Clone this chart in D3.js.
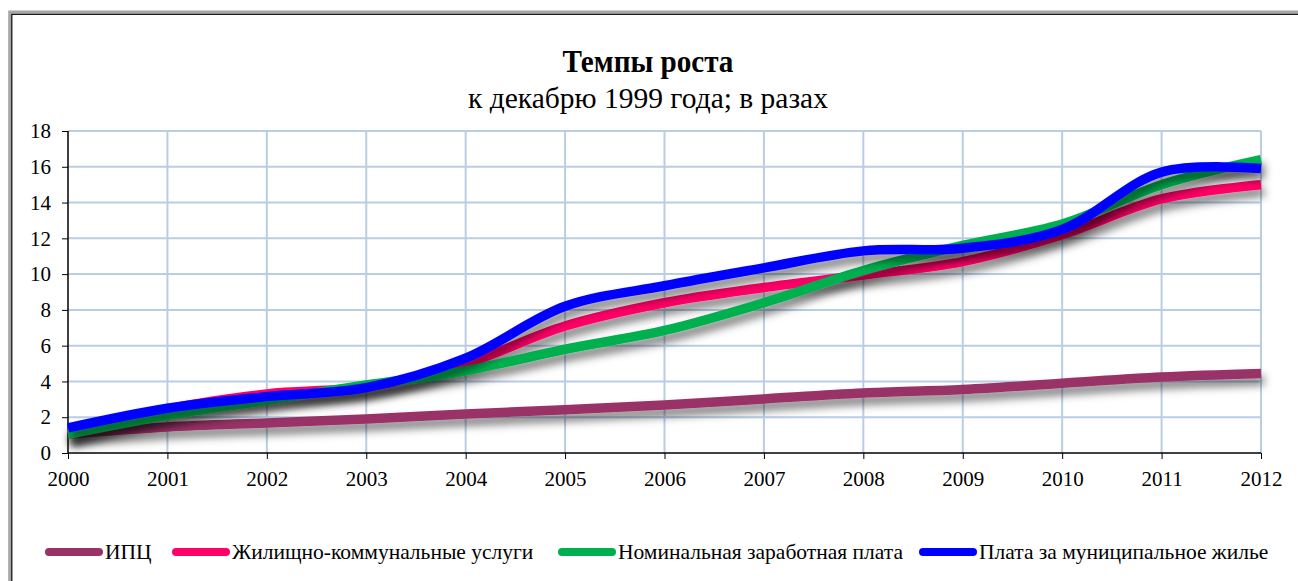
<!DOCTYPE html>
<html>
<head>
<meta charset="utf-8">
<script src="https://cdn.jsdelivr.net/npm/d3@7"></script>
<style>
  html, body { margin: 0; padding: 0; background: #fff; }
</style>
</head>
<body>
<svg id="chart" width="1298" height="581"></svg>
<script>
// Годы и ряды (темпы роста к декабрю 1999 г., в разах)
const years = [2000, 2001, 2002, 2003, 2004, 2005, 2006, 2007, 2008, 2009, 2010, 2011, 2012];
const cpi      = [1.05, 1.45, 1.68, 1.9, 2.18, 2.42, 2.68, 3.02, 3.35, 3.55, 3.9, 4.25, 4.45];
const housing  = [1.05, 2.45, 3.3, 3.7, 5.0, 7.1, 8.4, 9.25, 9.95, 10.7, 12.2, 14.2, 15.0];
const wages    = [1.05, 2.1, 2.95, 3.8, 4.6, 5.8, 6.85, 8.4, 10.2, 11.6, 12.8, 15.0, 16.4];
const municipal = [1.4, 2.5, 3.15, 3.65, 5.3, 8.2, 9.35, 10.35, 11.3, 11.45, 12.5, 15.7, 15.9];
const yTicks = [0, 2, 4, 6, 8, 10, 12, 14, 16, 18];

const seriesNames = ["ИПЦ", "Жилищно-коммунальные услуги", "Номинальная заработная плата", "Плата за муниципальное жилье"];
const seriesColors = ["#993366", "#ff0066", "#00b050", "#0000ff"];
const seriesValues = [cpi, housing, wages, municipal];

const FONT = "Liberation Serif";
const svg = d3.select("#chart");

// сжатие текста по горизонтали
function squeeze(sel, k) {
  sel.each(function () {
    const w = this.getComputedTextLength();
    d3.select(this).attr("textLength", w * k).attr("lengthAdjust", "spacingAndGlyphs");
  });
}

// рамка диаграммы
svg.append("rect").attr("x", 9.7).attr("y", 12).attr("width", 1300).attr("height", 600)
  .attr("fill", "none").attr("stroke", "#a6a6a6").attr("stroke-width", 3);
svg.append("rect").attr("x", 11.8).attr("y", 14.3).attr("width", 1300).attr("height", 600)
  .attr("fill", "none").attr("stroke", "#000").attr("stroke-width", 1.2);

// заголовок
svg.append("text").attr("x", 648).attr("y", 72).attr("text-anchor", "middle")
  .attr("font-family", FONT).attr("font-size", 31).attr("font-weight", "bold")
  .text("Темпы роста").call(squeeze, 0.94);
svg.append("text").attr("x", 648).attr("y", 108).attr("text-anchor", "middle")
  .attr("font-family", FONT).attr("font-size", 29.5).text("к декабрю 1999 года; в разах");

const x = d3.scaleLinear().domain([2000, 2012]).range([68, 1261]);
const y = d3.scaleLinear().domain([0, 18]).range([453, 131]);

// сетка
const grid = svg.append("g");
grid.selectAll("line.h").data(yTicks.filter(d => d > 0)).join("line")
  .attr("x1", x(2000)).attr("x2", x(2012))
  .attr("y1", d => y(d)).attr("y2", d => y(d))
  .attr("stroke", "#b9cde5").attr("stroke-width", 2);
grid.selectAll("line.v").data(years.filter(d => d > 2000)).join("line")
  .attr("x1", d => x(d)).attr("x2", d => x(d))
  .attr("y1", y(0)).attr("y2", y(18))
  .attr("stroke", "#b9cde5").attr("stroke-width", 2);

// оси
const yAxis = d3.axisLeft(y).tickValues(yTicks).tickSize(6).tickPadding(11).tickFormat(d3.format("d"));
const gy = svg.append("g").attr("transform", `translate(${x(2000)},0)`).call(yAxis);
const xAxis = d3.axisBottom(x).tickValues(years).tickSize(6).tickPadding(9).tickFormat(d3.format("d"));
const gx = svg.append("g").attr("transform", `translate(0,${y(0)})`).call(xAxis);
[gx, gy].forEach(g => {
  g.attr("font-family", FONT).attr("font-size", 21);
  g.select(".domain").attr("stroke", "#000").attr("stroke-width", 1.5);
  g.selectAll(".tick line").attr("stroke", "#000");
  g.selectAll(".tick text").attr("fill", "#000").attr("font-family", FONT);
});
gx.selectAll(".tick text").attr("y", 33).attr("dy", 0);
gy.select(".domain").attr("d", `M0,${y(18)}V${y(0)}`);
gx.select(".domain").attr("d", `M${x(2000)},0H${x(2012)}`);

// тень линий
const defs = svg.append("defs");
const f = defs.append("filter").attr("id", "shadow")
  .attr("x", "-5%").attr("y", "-20%").attr("width", "115%").attr("height", "160%");
f.append("feDropShadow").attr("dx", 3).attr("dy", 7).attr("stdDeviation", 4)
  .attr("flood-color", "#000").attr("flood-opacity", 0.5);

const line = d3.line()
  .x((d, i) => x(years[i]))
  .y(d => y(d))
  .curve(d3.curveCatmullRom.alpha(0.5));

const lines = svg.append("g");
seriesValues.forEach((vals, k) => {
  lines.append("path").datum(vals)
    .attr("d", line)
    .attr("fill", "none")
    .attr("stroke", seriesColors[k])
    .attr("stroke-width", 9.5)
    .attr("stroke-linejoin", "round")
    .attr("filter", "url(#shadow)");
});

// легенда
const legendX = [45, 172, 558, 919];
const legend = svg.append("g");
seriesNames.forEach((name, k) => {
  const lx = legendX[k];
  legend.append("line").attr("x1", lx + 4).attr("x2", lx + 54)
    .attr("y1", 552).attr("y2", 552)
    .attr("stroke", seriesColors[k]).attr("stroke-width", 8).attr("stroke-linecap", "round");
  legend.append("text").attr("x", lx + 60).attr("y", 559)
    .attr("font-family", FONT).attr("font-size", 21.5).attr("fill", "#000").text(name);
});
</script>
</body>
</html>
